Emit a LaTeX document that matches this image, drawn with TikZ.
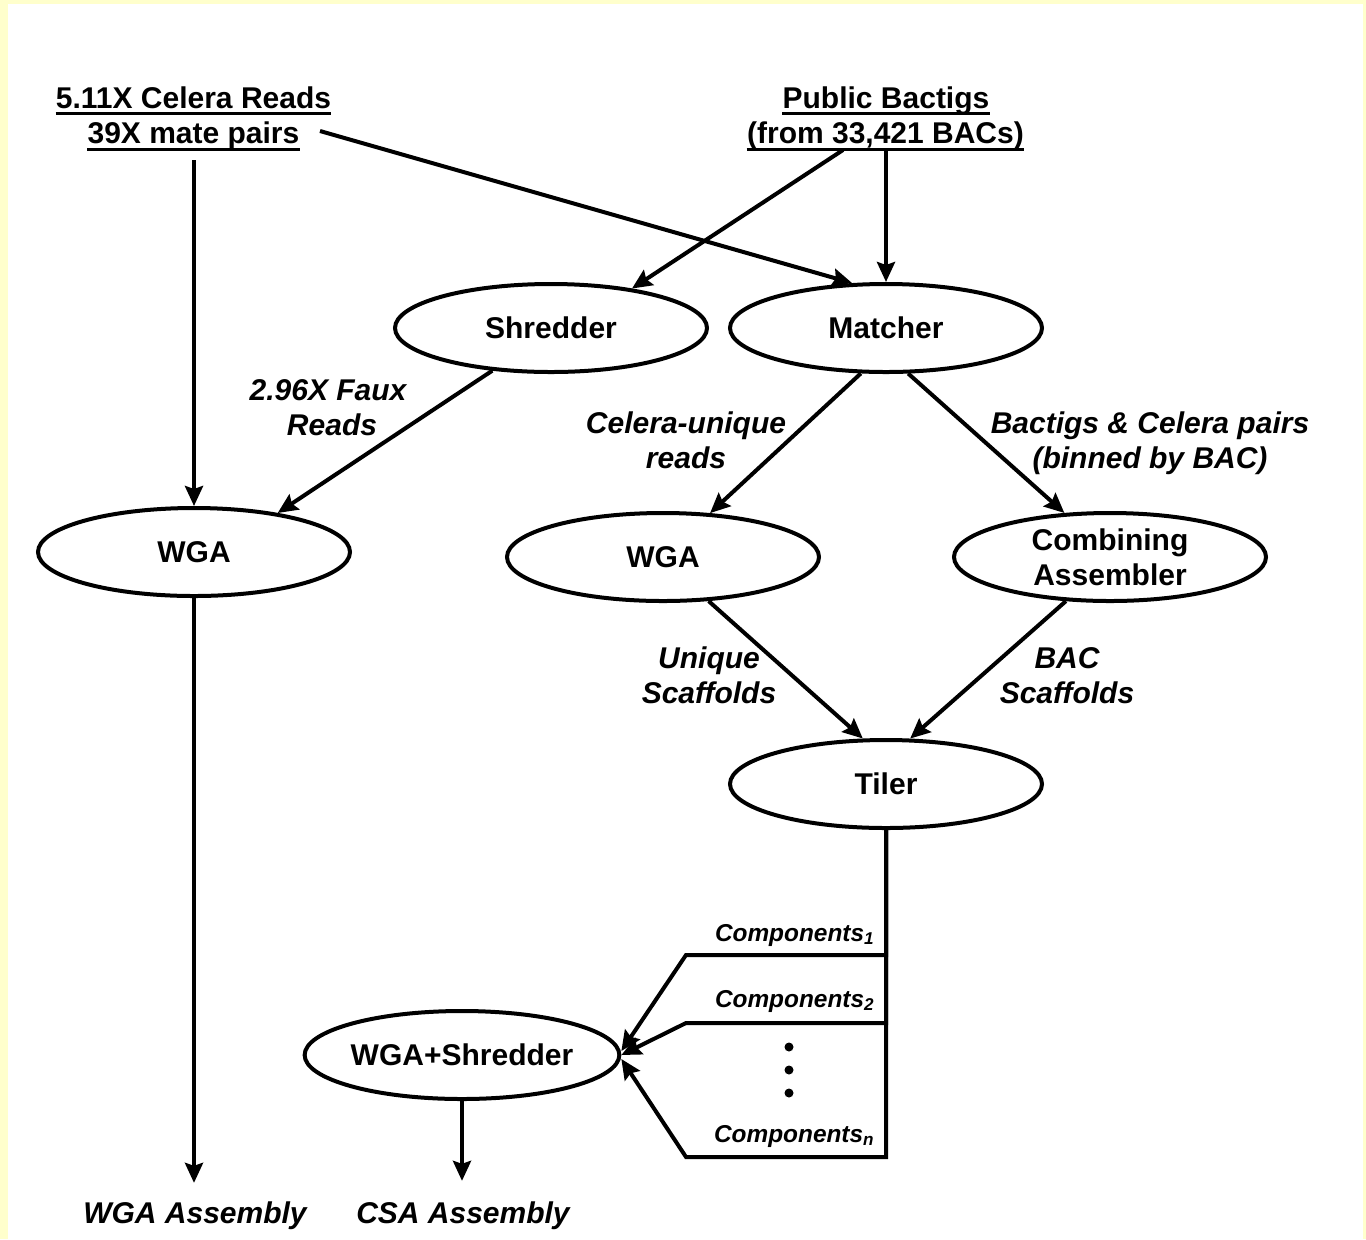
\documentclass[tikz,border=0pt]{standalone}
\usepackage{fontspec}
\setmainfont{Liberation Sans}
\usetikzlibrary{shapes.geometric,arrows.meta,calc}
\definecolor{bgyellow}{HTML}{FFFFCC}
\newcommand\mybig{\fontsize{15}{17.5}\selectfont\bfseries}
\newcommand\mylab{\fontsize{15}{17.5}\selectfont\bfseries\itshape}
\newcommand\mycomp{\fontsize{12.2}{14}\selectfont\bfseries\itshape}
\begin{document}
\begin{tikzpicture}[x=0.5pt,y=-0.5pt,
  proc/.style={ellipse,draw,line width=2pt,minimum width=156pt,minimum height=44pt,inner sep=0pt,font=\mybig,align=center},
  arr/.style={line width=2pt,-{Stealth[length=10pt,width=9pt,inset=1.5pt]}},
  lab/.style={font=\mylab,inner sep=0pt,anchor=base},
  head/.style={font=\mybig,inner sep=0pt,anchor=base},
  comp/.style={font=\mycomp,inner sep=0pt,anchor=base east},
  uline/.style={line width=1.5pt},
  dot/.style={circle,fill,inner sep=0pt,minimum size=4.5pt}]
\useasboundingbox (0,0) rectangle (1366,1239);
\fill[bgyellow] (0,0) rectangle (1366,1239);
\fill[white] (8,4) rectangle (1363,1239);

% process ellipses
\node[proc] (shr) at (551,328) {Shredder};
\node[proc] (mat) at (886,328) {Matcher};
\node[proc] (wga1) at (194,552) {WGA};
\node[proc] (wga2) at (663,557) {WGA};
\node[proc] (comb) at (1110,557) {Combining\\Assembler};
\node[proc] (til) at (886,784) {Tiler};
\node[proc] (ws) at (462,1055) {WGA+Shredder};

% source headings
\node[head] (cel1) at (193.5,108) {5.11X Celera Reads};
\node[head] (cel2) at (193.5,143) {39X mate pairs};
\node[head] (pub1) at (886,108) {Public Bactigs};
\node[head] (pub2) at (885.5,143) {(from 33,421 BACs)};
\draw[uline] ($(cel1.base west)+(0,5.5)$) -- ($(cel1.base east)+(0,5.5)$);
\draw[uline] ($(cel2.base west)+(0,6)$) -- ($(cel2.base east)+(0,6)$);
\draw[uline] ($(pub1.base west)+(0,5.5)$) -- ($(pub1.base east)+(0,5.5)$);
\draw[uline] ($(pub2.base west)+(0,6)$) -- ($(pub2.base east)+(0,6)$);

% edge labels
\node[lab] (l1a) at (328,400) {2.96X Faux};
\node[lab] (l1b) at (332,435) {Reads};
\node[lab] (l2a) at (686,433) {Celera-unique};
\node[lab] (l2b) at (686,468) {reads};
\node[lab] (l3a) at (1150,433) {Bactigs \& Celera pairs};
\node[lab] (l3b) at (1150,468) {(binned by BAC)};
\node[lab] (l4a) at (709,668) {Unique};
\node[lab] (l4b) at (709,703) {Scaffolds};
\node[lab] (l5a) at (1067,668) {BAC};
\node[lab] (l5b) at (1067,703) {Scaffolds};

% components
\node[comp] (c1) at (875,941) {Components\textsubscript{1}};
\node[comp] (c2) at (875,1007) {Components\textsubscript{2}};
\node[comp] (cn) at (875,1142) {Components\textsubscript{n}};
\node[dot] (d1) at (789,1047) {};
\node[dot] (d2) at (789,1070) {};
\node[dot] (d3) at (789,1093) {};

% outputs
\node[lab] (wasm) at (195,1223) {WGA Assembly};
\node[lab] (casm) at (463,1223) {CSA Assembly};

% connectors
\coordinate (cA) at (194,160);
\coordinate (cB) at (320,131);
\coordinate (pA) at (843,150);
\coordinate (pB) at (886,150);
\draw[arr] (cA) -- (wga1.north);
\draw[arr] (cB) -- (mat.127.8);
\draw[arr] (pA) -- (shr.26.2);
\draw[arr] (pB) -- (mat.north);
\draw[arr] (shr.216.9) -- (wga1.25);
\draw[arr] (mat.241.7) -- (wga2.43.1);
\draw[arr] (mat.296.3) -- (comb.136.2);
\draw[arr] (wga2.316.9) -- (til.117.3);
\draw[arr] (comb.225.2) -- (til.62.7);
\draw[arr] (wga1.south) -- ($(wga1.south |- wasm.north)+(0,-18)$);
\draw[arr] (ws.south) -- ($(ws.south |- casm.north)+(0,-20)$);

\coordinate (k1) at (686,955);
\coordinate (k2) at (686,1023);
\coordinate (kn) at (686,1157);
\draw[arr] (til.south) |- (k1) -- ($(ws.east)+(0,-4)$);
\draw[arr] (til.south) |- (k2) -- (ws.east);
\draw[arr] (til.south) |- (kn) -- ($(ws.east)+(0,4)$);
\end{tikzpicture}
\end{document}
